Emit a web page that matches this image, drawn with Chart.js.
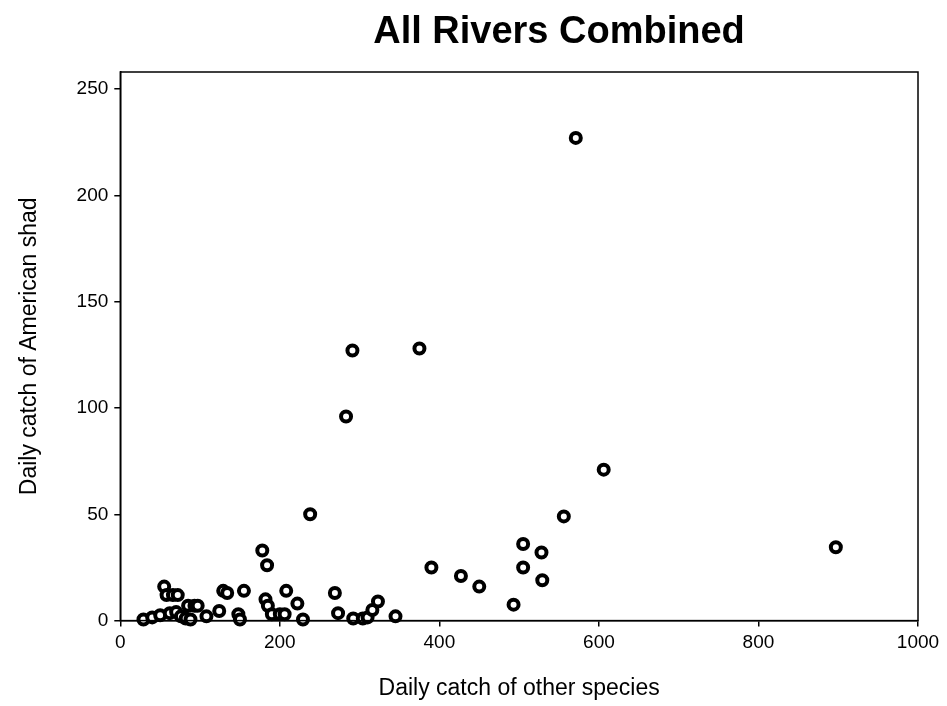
<!DOCTYPE html>
<html>
<head>
<meta charset="utf-8">
<script src="https://cdn.jsdelivr.net/npm/chart.js@4/dist/chart.umd.min.js"></script>
<style>
  body { margin: 0; background: #fff; }
  #wrap { width: 947px; height: 706px; }
</style>
</head>
<body>
<div id="wrap"><canvas id="grafico" width="947" height="706"></canvas></div>
<script>
// Daily catch of other species (x) vs daily catch of American shad (y)
const outrasEspecies = [29, 40, 50, 55, 58, 62, 66, 70, 72, 76, 82, 85, 88, 93, 97, 108, 124, 129, 134, 148,
    150, 155, 178, 182, 184, 185, 190, 200, 206, 208, 222, 229, 238, 269, 273, 283, 291, 292, 304, 310,
    316, 323, 345, 375, 390, 427, 450, 493, 505, 505, 528, 529, 556, 571, 606, 897];
const savelha = [0.5, 1.5, 2.5, 16, 12, 3.5, 12, 4, 12, 2, 1, 7, 0.5, 7, 7, 2, 4.5, 14, 13, 3,
    0.5, 14, 33, 10, 26, 7, 3, 3, 3, 14, 8, 0.5, 50, 13, 3.5, 96, 127, 1, 1, 1.5,
    5, 9, 2, 128, 25, 21, 16, 7.5, 36, 25, 32, 19, 49, 227, 71, 34.5];
const ticksX = [0, 200, 400, 600, 800, 1000];
const ticksY = [0, 50, 100, 150, 200, 250];

const pontos = outrasEspecies.map((x, i) => ({ x: x, y: savelha[i] }));

// caixa em volta da area do grafico + titulo
const molduraPlugin = {
    id: "moldura",
    afterDraw(chart) {
        const { ctx, chartArea } = chart;
        ctx.save();
        ctx.strokeStyle = "#000";
        ctx.lineWidth = 1.5;
        ctx.strokeRect(chartArea.left, chartArea.top, chartArea.right - chartArea.left, chartArea.bottom - chartArea.top);
        ctx.fillStyle = "#000";
        ctx.font = "bold 38px 'Liberation Sans', Arial, sans-serif";
        ctx.textAlign = "center";
        ctx.textBaseline = "middle";
        ctx.fillText("All Rivers Combined", 559, 33);
        ctx.restore();
    }
};

const fonte = "'Liberation Sans', Arial";

const ctx1 = document.getElementById("grafico").getContext("2d");
new Chart(ctx1, {
    type: "scatter",
    data: {
        datasets: [
            {
                label: "Daily catch",
                data: pontos,
                pointStyle: "circle",
                pointRadius: 5,
                borderWidth: 4,
                borderColor: "#000",
                backgroundColor: "#fff",
                clip: false,
            },
        ],
    },
    options: {
        responsive: false,
        animation: false,
        layout: { padding: { top: 72, right: 29, bottom: 4, left: 16 } },
        plugins: {
            legend: { display: false },
            tooltip: { enabled: false },
        },
        scales: {
            x: {
                min: 0,
                max: 1000,
                afterBuildTicks: scale => { scale.ticks = ticksX.map(v => ({ value: v })); },
                grid: { drawOnChartArea: false, tickLength: 6, color: "#000", lineWidth: 1.5 },
                border: { color: "#000", width: 1.5 },
                ticks: { color: "#000", font: { family: fonte, size: 19 }, padding: 5, maxRotation: 0, callback: v => String(v) },
                title: { display: true, text: "Daily catch of other species", color: "#000", font: { family: fonte, size: 23 }, padding: { top: 15, bottom: 0 } },
            },
            y: {
                min: 0,
                max: 258,
                afterBuildTicks: scale => { scale.ticks = ticksY.map(v => ({ value: v })); },
                grid: { drawOnChartArea: false, tickLength: 6, color: "#000", lineWidth: 1.5 },
                border: { color: "#000", width: 1.5 },
                ticks: { color: "#000", font: { family: fonte, size: 19 }, padding: 6, callback: v => String(v) },
                title: { display: true, text: "Daily catch of American shad", color: "#000", font: { family: fonte, size: 23 }, padding: { top: 0, bottom: 27 } },
            },
        },
    },
    plugins: [molduraPlugin],
});
</script>
</body>
</html>
